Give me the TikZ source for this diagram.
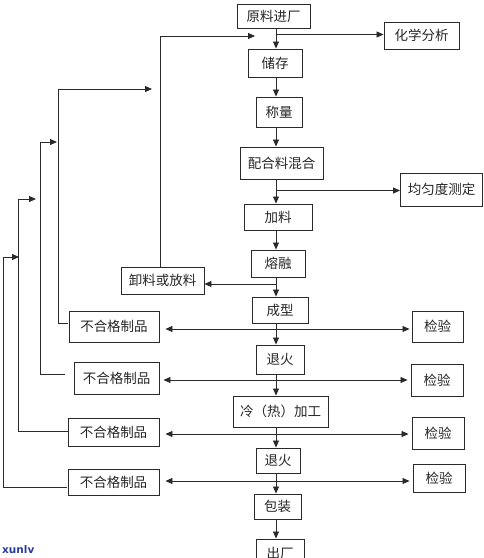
\documentclass[tikz,border=0pt]{standalone}
\usepackage{fontspec}
\newfontfamily\cjk{Noto Sans CJK SC}
\newfontfamily\wmfont{DejaVu Sans}
\usetikzlibrary{arrows.meta}
\definecolor{ln}{HTML}{2A2A2A}
\definecolor{wm}{HTML}{2B3C9C}
\tikzset{
  x=1pt, y=-1pt,
  box/.style={draw=ln, line width=0.9pt, inner sep=0pt, font=\cjk\fontsize{13.5}{14}\selectfont, text=black!85},
  conn/.style={draw=ln, line width=0.8pt},
  arr/.style={conn, -{Triangle[length=7pt,width=6pt]}},
  darr/.style={conn, {Triangle[length=7pt,width=6pt]}-{Triangle[length=7pt,width=6pt]}},
}
\newcommand{\bx}[5]{\node[box, minimum width=#3pt, minimum height=#4pt] (#1) at (#2) {#5};}
\begin{document}
\begin{tikzpicture}
\useasboundingbox (0,0) rectangle (483,558);
\begin{scope}
\clip (0,0) rectangle (483,558);
% boxes
\bx{yl}{273.5,16}{73}{24}{原料进厂}
\bx{hx}{421.5,35.5}{75}{27}{化学分析}
\bx{cc}{275,63}{54}{28}{储存}
\bx{cl}{279,112}{46}{30}{称量}
\bx{ph}{281.5,163}{83}{32}{配合料混合}
\bx{jy}{441.5,189.5}{82}{33}{均匀度测定}
\bx{jl}{278,217}{68}{26}{加料}
\bx{rr}{278,263.5}{54}{27}{熔融}
\bx{xl}{162.5,280.5}{83}{27}{卸料或放料}
\bx{cx}{280,310}{56}{26}{成型}
\bx{bh1}{114,326.5}{90}{31}{不合格制品}
\bx{jy1}{437.5,326.5}{51}{31}{检验}
\bx{th1}{280,359.5}{48}{29}{退火}
\bx{bh2}{116.5,378}{85}{32}{不合格制品}
\bx{jy2}{437,380}{52}{32}{检验}
\bx{lr}{280.5,411.5}{95}{31}{冷（热）加工}
\bx{bh3}{113.5,432}{91}{28}{不合格制品}
\bx{jy3}{438,433}{52}{32}{检验}
\bx{th2}{278,460.5}{44}{25}{退火}
\bx{bh4}{113.5,482}{91}{26}{不合格制品}
\bx{jy4}{439,478}{52}{28}{检验}
\bx{bz}{277.5,506.5}{47}{25}{包装}
\bx{chu}{280,553}{48}{28}{出厂}
% spine
\coordinate (sp) at (276,0);
\draw[arr] (yl.south -| sp) -- (cc.north -| sp);
\draw[arr] (cc.south -| sp) -- (cl.north -| sp);
\draw[arr] (cl.south -| sp) -- (ph.north -| sp);
\draw[arr] (ph.south -| sp) -- (jl.north -| sp);
\draw[arr] (jl.south -| sp) -- (rr.north -| sp);
\draw[arr] (rr.south -| sp) -- (cx.north -| sp);
\draw[arr] (cx.south -| sp) -- (th1.north -| sp);
\draw[arr] (th1.south -| sp) -- (lr.north -| sp);
\draw[arr] (lr.south -| sp) -- (th2.north -| sp);
\draw[arr] (th2.south -| sp) -- (bz.north -| sp);
\draw[arr] (bz.south -| sp) -- (chu.north -| sp);
% side branches
\coordinate (b1) at (277,34.5);
\draw[arr] (b1) -- (b1 -| hx.west);
\coordinate (b2) at (276,190.5);
\draw[arr] (b2) -- (b2 -| jy.west);
\coordinate (b3) at (276,284);
\draw[arr] (b3) -- (b3 -| xl.east);
% return from xl
\coordinate (xtop) at (160,267);
\coordinate (t1) at (255,36);
\draw[arr] (xtop) |- (t1);
% inspection rows
\coordinate (r1) at (0,329);
\draw[darr] ([xshift=6pt]bh1.east |- r1) -- ([xshift=-2pt]jy1.west |- r1);
\coordinate (r2) at (0,380);
\draw[darr] ([xshift=4pt]bh2.east |- r2) -- ([xshift=-3pt]jy2.west |- r2);
\coordinate (r3) at (0,434);
\draw[darr] ([xshift=6pt]bh3.east |- r3) -- ([xshift=-3pt]jy3.west |- r3);
\coordinate (r4) at (0,481);
\draw[darr] ([xshift=6pt]bh4.east |- r4) -- ([xshift=-3pt]jy4.west |- r4);
% left feedback loops
\coordinate (f1) at (58,89);  \coordinate (g1) at (152,89);
\draw[arr] ([xshift=-1pt]bh1.west |- 0,323) -| (f1) -- (g1);
\coordinate (f2) at (40,142); \coordinate (g2) at (57,142);
\draw[arr] ([xshift=-9pt]bh2.west |- 0,374) -| (f2) -- (g2);
\coordinate (f3) at (18,199); \coordinate (g3) at (36,199);
\draw[arr] (bh3.west |- 0,431) -| (f3) -- (g3);
\coordinate (f4) at (3,257);  \coordinate (g4) at (19,257);
\draw[arr] ([xshift=-1pt]bh4.west |- 0,487) -| (f4) -- (g4);
% watermark
\node[anchor=south west, inner sep=0pt, text=wm, font=\wmfont\bfseries\fontsize{10.5}{11}\selectfont] (wmk) at (2,553.5) {xunlv};
\end{scope}
\end{tikzpicture}
\end{document}
